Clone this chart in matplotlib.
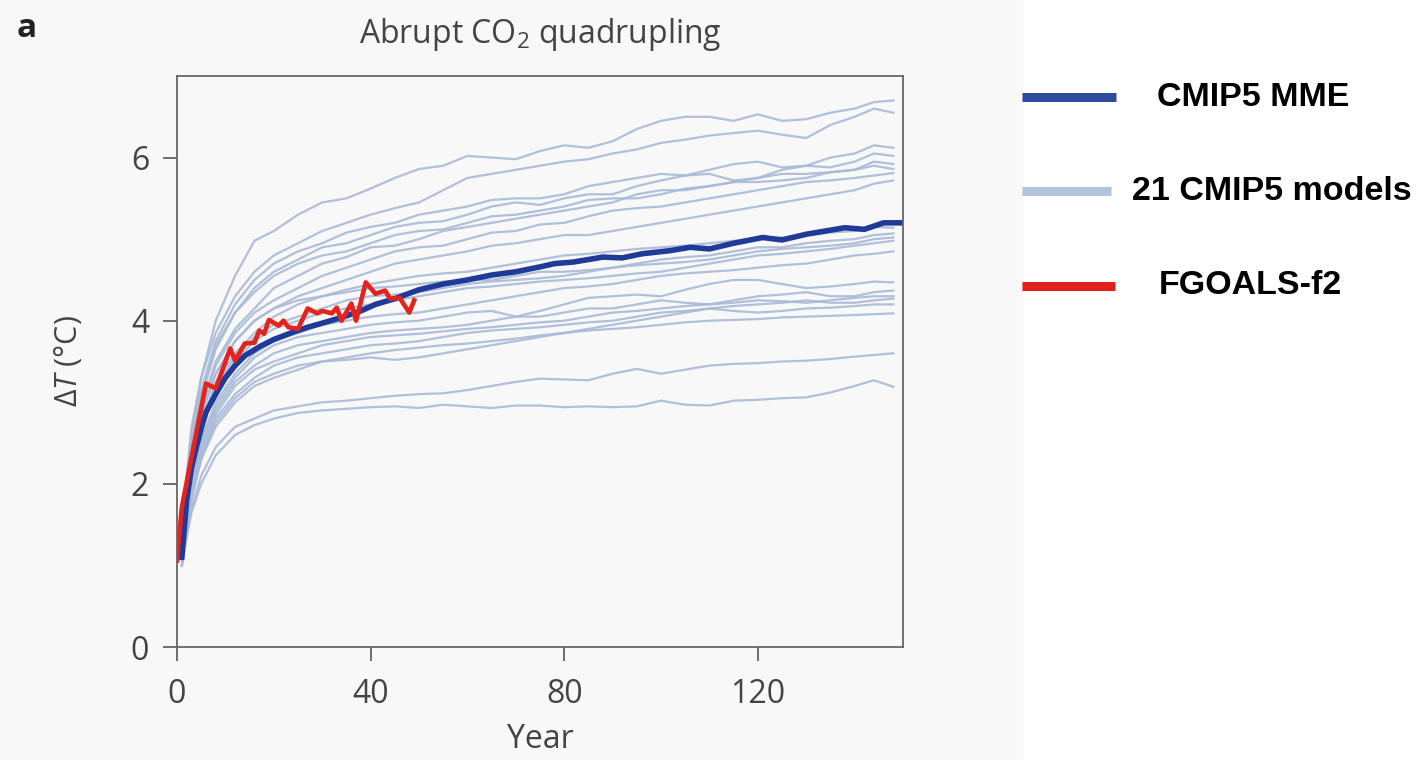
import matplotlib
matplotlib.use("Agg")
from matplotlib import pyplot as plt
from matplotlib.lines import Line2D
from matplotlib.patches import Rectangle

plt.rcParams['font.family'] = ['Open Sans', 'DejaVu Sans']
plt.rcParams['mathtext.fontset'] = 'custom'
plt.rcParams['mathtext.rm'] = 'Open Sans'
plt.rcParams['mathtext.it'] = 'Open Sans:italic'

# sample years for the 21 model curves
model_years = [1, 2, 3, 5, 8, 12, 16, 20, 25, 30, 35, 40, 45, 50, 55, 60, 65, 70, 75, 80,
               85, 90, 95, 100, 105, 110, 115, 120, 125, 130, 135, 140, 144, 148]

models = [
    [1.4, 2.1, 2.6, 3.3, 4.0, 4.55, 4.98, 5.1, 5.3, 5.45, 5.5, 5.62, 5.75, 5.86, 5.9, 6.02, 6.0, 5.98, 6.08, 6.15,
     6.12, 6.2, 6.35, 6.45, 6.5, 6.5, 6.45, 6.53, 6.45, 6.47, 6.55, 6.6, 6.68, 6.70],
    [1.4, 2.1, 2.7, 3.3, 3.85, 4.3, 4.6, 4.8, 4.95, 5.1, 5.2, 5.3, 5.38, 5.45, 5.6, 5.75, 5.8, 5.85, 5.9, 5.95,
     5.98, 6.05, 6.1, 6.18, 6.22, 6.27, 6.3, 6.33, 6.28, 6.24, 6.4, 6.5, 6.6, 6.55],
    [1.3, 2.0, 2.5, 3.15, 3.75, 4.2, 4.5, 4.7, 4.85, 4.95, 5.08, 5.15, 5.2, 5.3, 5.35, 5.4, 5.48, 5.5, 5.5, 5.55,
     5.65, 5.7, 5.75, 5.8, 5.78, 5.85, 5.92, 5.95, 5.88, 5.9, 6.0, 6.05, 6.15, 6.12],
    [1.25, 1.9, 2.4, 3.05, 3.65, 4.1, 4.4, 4.6, 4.75, 4.9, 4.95, 5.05, 5.15, 5.2, 5.22, 5.3, 5.4, 5.45, 5.42, 5.5,
     5.55, 5.55, 5.65, 5.72, 5.78, 5.8, 5.72, 5.75, 5.85, 5.9, 5.88, 5.95, 6.05, 6.02],
    [1.3, 1.95, 2.45, 3.1, 3.7, 4.1, 4.35, 4.55, 4.7, 4.8, 4.85, 4.95, 5.05, 5.1, 5.12, 5.2, 5.28, 5.3, 5.35, 5.4,
     5.48, 5.5, 5.5, 5.55, 5.62, 5.65, 5.7, 5.75, 5.8, 5.8, 5.82, 5.85, 5.95, 5.92],
    [1.2, 1.8, 2.3, 2.95, 3.5, 3.9, 4.15, 4.4, 4.55, 4.7, 4.78, 4.9, 4.92, 5.0, 5.1, 5.15, 5.2, 5.25, 5.3, 5.35,
     5.4, 5.45, 5.55, 5.6, 5.6, 5.65, 5.7, 5.7, 5.72, 5.75, 5.82, 5.85, 5.9, 5.86],
    [1.15, 1.75, 2.25, 2.9, 3.45, 3.85, 4.1, 4.25, 4.4, 4.55, 4.65, 4.75, 4.85, 4.9, 4.92, 5.0, 5.08, 5.1, 5.18, 5.2,
     5.28, 5.35, 5.38, 5.4, 5.45, 5.5, 5.55, 5.6, 5.65, 5.7, 5.72, 5.75, 5.78, 5.81],
    [1.2, 1.75, 2.25, 2.85, 3.35, 3.75, 4.0, 4.15, 4.3, 4.4, 4.5, 4.6, 4.7, 4.75, 4.8, 4.85, 4.92, 4.95, 5.0, 5.05,
     5.05, 5.1, 5.15, 5.2, 5.25, 5.3, 5.35, 5.4, 5.45, 5.5, 5.55, 5.6, 5.68, 5.72],
    [1.1, 1.65, 2.15, 2.75, 3.25, 3.6, 3.85, 4.05, 4.2, 4.3, 4.38, 4.45, 4.5, 4.55, 4.58, 4.6, 4.65, 4.7, 4.75, 4.8,
     4.82, 4.85, 4.88, 4.9, 4.92, 4.95, 4.98, 5.0, 5.02, 5.05, 5.08, 5.1, 5.15, 5.14],
    [1.2, 1.75, 2.25, 2.85, 3.35, 3.75, 4.0, 4.15, 4.25, 4.3, 4.35, 4.4, 4.42, 4.45, 4.48, 4.5, 4.5, 4.55, 4.6, 4.6,
     4.62, 4.65, 4.7, 4.75, 4.78, 4.8, 4.85, 4.9, 4.9, 4.95, 4.98, 5.0, 5.05, 5.07],
    [1.1, 1.6, 2.05, 2.65, 3.15, 3.5, 3.75, 3.9, 4.0, 4.1, 4.15, 4.2, 4.25, 4.3, 4.35, 4.4, 4.42, 4.45, 4.48, 4.5,
     4.52, 4.55, 4.58, 4.6, 4.65, 4.7, 4.75, 4.8, 4.82, 4.85, 4.88, 4.92, 4.95, 4.98],
    [1.15, 1.65, 2.1, 2.7, 3.2, 3.55, 3.8, 3.95, 4.05, 4.15, 4.25, 4.3, 4.32, 4.35, 4.4, 4.45, 4.48, 4.5, 4.52, 4.55,
     4.6, 4.65, 4.68, 4.7, 4.72, 4.75, 4.8, 4.85, 4.88, 4.9, 4.92, 4.95, 5.0, 5.02],
    [1.1, 1.6, 2.0, 2.55, 3.0, 3.35, 3.6, 3.75, 3.85, 3.95, 4.0, 4.05, 4.08, 4.1, 4.15, 4.2, 4.25, 4.3, 4.35, 4.4,
     4.42, 4.45, 4.5, 4.55, 4.58, 4.6, 4.62, 4.65, 4.68, 4.7, 4.75, 4.8, 4.82, 4.85],
    [1.1, 1.55, 2.0, 2.5, 2.95, 3.3, 3.55, 3.7, 3.8, 3.85, 3.9, 3.95, 3.98, 4.0, 4.05, 4.1, 4.12, 4.05, 4.12, 4.2,
     4.28, 4.3, 4.32, 4.3, 4.38, 4.45, 4.5, 4.5, 4.45, 4.4, 4.42, 4.45, 4.48, 4.47],
    [1.05, 1.5, 1.95, 2.45, 2.9, 3.25, 3.45, 3.6, 3.7, 3.75, 3.8, 3.85, 3.88, 3.9, 3.92, 3.95, 4.0, 4.05, 4.05, 4.1,
     4.15, 4.15, 4.2, 4.25, 4.22, 4.2, 4.25, 4.3, 4.32, 4.35, 4.3, 4.3, 4.35, 4.37],
    [1.1, 1.55, 1.95, 2.4, 2.85, 3.2, 3.4, 3.5, 3.6, 3.7, 3.75, 3.8, 3.82, 3.84, 3.87, 3.9, 3.92, 3.95, 3.98, 4.0,
     4.05, 4.1, 4.12, 4.15, 4.18, 4.2, 4.22, 4.25, 4.24, 4.22, 4.25, 4.28, 4.3, 4.30],
    [1.0, 1.45, 1.85, 2.35, 2.8, 3.1, 3.3, 3.45, 3.55, 3.6, 3.65, 3.7, 3.72, 3.75, 3.8, 3.85, 3.88, 3.9, 3.92, 3.95,
     3.98, 4.0, 4.05, 4.1, 4.12, 4.15, 4.18, 4.2, 4.22, 4.25, 4.22, 4.22, 4.25, 4.27],
    [1.0, 1.4, 1.8, 2.3, 2.7, 3.0, 3.2, 3.3, 3.4, 3.5, 3.55, 3.6, 3.64, 3.67, 3.7, 3.72, 3.75, 3.78, 3.82, 3.85,
     3.88, 3.9, 3.92, 3.95, 3.98, 4.0, 4.01, 4.02, 4.04, 4.05, 4.06, 4.07, 4.08, 4.09],
    [1.05, 1.45, 1.85, 2.3, 2.75, 3.05, 3.25, 3.35, 3.45, 3.5, 3.52, 3.55, 3.52, 3.55, 3.6, 3.65, 3.7, 3.75, 3.8, 3.85,
     3.9, 3.95, 4.0, 4.05, 4.1, 4.15, 4.12, 4.1, 4.12, 4.15, 4.16, 4.18, 4.2, 4.20],
    [1.0, 1.35, 1.7, 2.1, 2.45, 2.7, 2.8, 2.9, 2.95, 3.0, 3.02, 3.05, 3.08, 3.1, 3.11, 3.15, 3.2, 3.25, 3.29, 3.28,
     3.27, 3.35, 3.41, 3.35, 3.4, 3.45, 3.47, 3.48, 3.5, 3.51, 3.53, 3.56, 3.58, 3.60],
    [1.0, 1.35, 1.65, 2.0, 2.35, 2.6, 2.72, 2.8, 2.87, 2.9, 2.92, 2.94, 2.95, 2.93, 2.97, 2.95, 2.93, 2.96, 2.96, 2.94,
     2.95, 2.94, 2.95, 3.02, 2.97, 2.96, 3.02, 3.03, 3.05, 3.06, 3.12, 3.2, 3.27, 3.19],
]

mme_years = [1, 2, 3, 4, 5, 6, 8, 10, 12, 14, 17, 20, 24, 27, 30, 34, 38, 41, 45, 50, 55, 60, 65, 70, 75, 78,
             82, 88, 92, 96, 102, 106, 110, 115, 121, 125, 130, 134, 138, 142, 146, 150]
mme = [1.1, 1.8, 2.2, 2.45, 2.68, 2.88, 3.1, 3.3, 3.45, 3.57, 3.68, 3.77, 3.86, 3.92, 3.97, 4.04, 4.12, 4.2,
       4.27, 4.38, 4.45, 4.5, 4.56, 4.6, 4.66, 4.7, 4.72, 4.78, 4.77, 4.82, 4.86, 4.9, 4.88, 4.95, 5.02, 4.99,
       5.06, 5.1, 5.14, 5.12, 5.2, 5.2]

fgoals_years = [0, 1, 3, 6, 8, 11, 12, 14, 16, 17, 18, 19, 21, 22, 23, 25, 27, 29, 30, 32, 33, 34, 36, 37,
                39, 41, 43, 44, 46, 48, 49]
fgoals = [1.06, 1.71, 2.33, 3.23, 3.17, 3.66, 3.51, 3.72, 3.73, 3.88, 3.84, 4.01, 3.94, 4.0, 3.92, 3.9, 4.15,
          4.09, 4.12, 4.09, 4.16, 4.0, 4.21, 4.0, 4.47, 4.33, 4.37, 4.27, 4.28, 4.1, 4.25]

legend_labels = ["CMIP5 MME", "21 CMIP5 models", "FGOALS-f2"]

bg = '#f8f8f8'
fig = plt.figure(figsize=(14.25, 7.6), dpi=100)
fig.patch.set_facecolor('white')
fig.add_artist(Rectangle((0, 0), 1022 / 1425, 1, transform=fig.transFigure, color=bg, zorder=-10))

ax = fig.add_axes([177 / 1425, 1 - 647 / 760, (903 - 177) / 1425, (647 - 76) / 760])
ax.set_facecolor(bg)

for m in models:
    ax.plot(model_years, m, color='#a8bad7', lw=1.6, alpha=0.9)
ax.plot(mme_years, mme, color='#1f3a97', lw=4.0)
ax.plot(fgoals_years, fgoals, color='#e3231c', lw=3.3)

ax.set_xlim(0, 150)
ax.set_ylim(0, 7)
ax.set_xticks([0, 40, 80, 120])
ax.set_yticks([0, 2, 4, 6])
ax.tick_params(direction='out', length=10, width=1.2, color='#555555',
               labelsize=23, labelcolor='#444444')
ax.tick_params(axis='x', pad=12)
ax.tick_params(axis='y', pad=10)
for s in ax.spines.values():
    s.set_color('#666666')
    s.set_linewidth(1.3)

ax.set_title('Abrupt CO$_2$ quadrupling', fontsize=23, color='#444444', pad=24)
ax.set_xlabel('Year', fontsize=23, color='#444444', labelpad=9)
ax.set_ylabel(r'Δ$\it{T}$ (°C)', fontsize=22, color='#444444', labelpad=34)
fig.text(0.012, 0.962, 'a', fontsize=24, fontweight='bold', color='#222222', va='center')

# legend on the right
leg_colors = ['#2c4b9c', '#b4c3dc', '#e0201a']
leg_y = [97, 191, 286]
leg_x1 = [1116, 1111, 1115]
leg_tx = [1157, 1132, 1159]
for lab, c, y, x1, tx in zip(legend_labels, leg_colors, leg_y, leg_x1, leg_tx):
    yy = 1 - y / 760
    fig.add_artist(Line2D([1022 / 1425, x1 / 1425], [yy, yy], color=c, lw=6.5, solid_capstyle='butt'))
    fig.text(tx / 1425, yy, lab, fontsize=24.5, fontweight='bold', family='Liberation Sans',
             color='black', va='center', ha='left')

fig.savefig('out.png', dpi=100, facecolor='white')
